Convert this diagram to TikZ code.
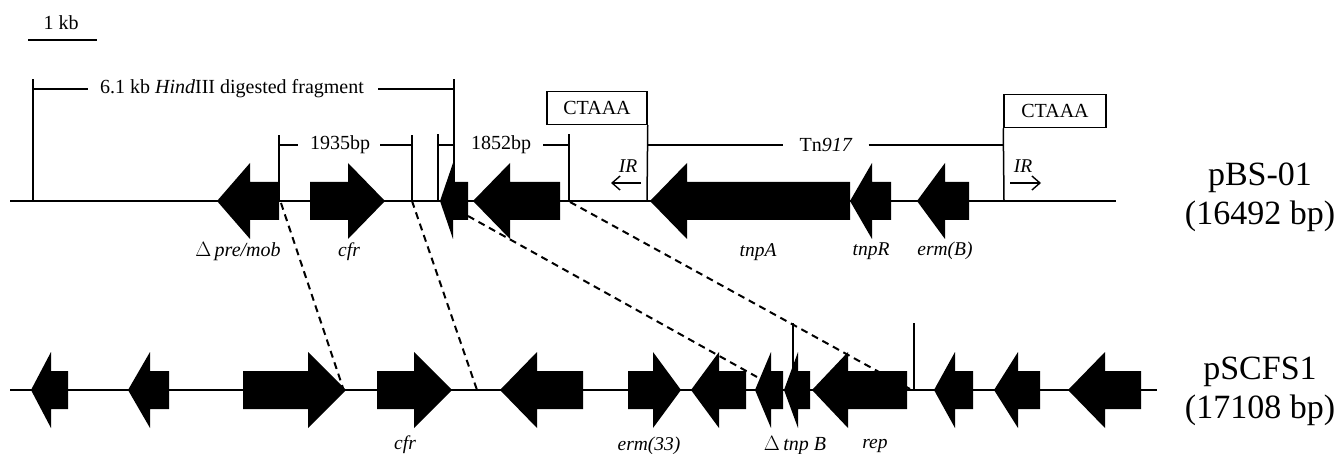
\documentclass[tikz,border=0pt]{standalone}
\usepackage{fontspec}
\setmainfont{Liberation Serif}
\usetikzlibrary{arrows.meta}
\newcommand{\garrow}[4]{\fill (#1,#4) -- (#2,#4-38) -- (#2,#4-19) -- (#3,#4-19) -- (#3,#4+19) -- (#2,#4+19) -- (#2,#4+38) -- cycle;}
\tikzset{
  dnaline/.style={line width=1.9pt},
  brk/.style={line width=1.5pt},
  dline/.style={line width=2pt, dash pattern=on 7pt off 5pt},
  lbl/.style={inner sep=0pt, font=\fontsize{20}{24}\selectfont},
  glbl/.style={inner sep=0pt, font=\fontsize{19.5}{23}\selectfont\itshape},
  big/.style={inner sep=0pt, font=\fontsize{34}{40}\selectfont, align=center},
  boxlbl/.style={draw, line width=1.5pt, inner sep=0pt, font=\fontsize{20}{24}\selectfont},
  irarrow/.style={line width=1.4pt, -{Straight Barb[length=8pt,width=14pt]}}
}
\begin{document}
\begin{tikzpicture}[x=1pt,y=-1pt]
\useasboundingbox (0,0) rectangle (1341,454);
% scale bar
\node[lbl] (kb) at (61,23) {1 kb};
\coordinate (sb1) at (28,40); \coordinate (sb2) at (97,40);
\draw[brk] (sb1) -- (sb2);
% main lines
\coordinate (t0) at (10,201); \coordinate (t1) at (1116,201);
\coordinate (b0) at (10,390); \coordinate (b1) at (1157,390);
\draw[dnaline] (t0) -- (t1);
\draw[dnaline] (b0) -- (b1);
% HindIII bracket
\node[lbl] (hind) at (232,89) {6.1 kb \textit{Hind}III digested fragment};
\draw[brk] (33,201) -- (33,79);
\draw[brk] (454,201) -- (454,79);
\draw[brk] (33,89) -- ([xshift=-12pt]hind.west);
\draw[brk] ([xshift=14pt]hind.east) -- (454,89);
% 1935bp bracket
\node[lbl] (b1935) at (340,145) {1935bp};
\draw[brk] (279,201) -- (279,135);
\draw[brk] (412,201) -- (412,135);
\draw[brk] (279,145) -- ([xshift=-12pt]b1935.west);
\draw[brk] ([xshift=10pt]b1935.east) -- (412,145);
% 1852bp bracket
\node[lbl] (b1852) at (501,145) {1852bp};
\draw[brk] (438,201) -- (438,134);
\draw[brk] (569,201) -- (569,134);
\draw[brk] (438,145) -- (455,145);
\draw[brk] ([xshift=12pt]b1852.east) -- (569,145);
% CTAAA boxes and Tn917
\node[boxlbl, minimum width=100pt, minimum height=33pt] (ct1) at (597,108) {CTAAA};
\node[boxlbl, minimum width=102pt, minimum height=33pt] (ct2) at (1055,111) {CTAAA};
\draw[brk] (ct1.south east) -- (647,201);
\draw[brk] (ct2.south west) -- (1004,201);
\node[lbl] (tn) at (826,145) {Tn\textit{917}};
\draw[brk] (647,145) -- ([xshift=-16pt]tn.west);
\draw[brk] ([xshift=16pt]tn.east) -- (1004,145);
% IR arrows
\node[glbl] (ir1) at (628,166) {IR};
\node[glbl] (ir2) at (1023,166) {IR};
\coordinate (ir1a) at (641,183); \coordinate (ir1b) at (611,183);
\coordinate (ir2a) at (1010,183); \coordinate (ir2b) at (1041,183);
\draw[irarrow] (ir1a) -- (ir1b);
\draw[irarrow] (ir2a) -- (ir2b);
% top genes
\garrow{217}{250}{279}{201}
\garrow{385}{348}{310}{201}
\garrow{440}{453}{468}{201}
\garrow{473}{510}{560}{201}
\garrow{650}{687}{850}{201}
\garrow{850}{872}{891}{201}
\garrow{917}{945}{969}{201}
% top gene labels
\node[lbl] (pre) at (238,252) {$\Delta$\,\textit{pre/mob}};
\node[glbl] (cfr1) at (349,252) {cfr};
\node[glbl] (tnpA) at (758,252) {tnpA};
\node[glbl] (tnpR) at (871,251) {tnpR};
\node[glbl] (ermB) at (945,251) {erm(B)};
% bottom genes
\garrow{31}{51}{68}{390}
\garrow{128}{150}{169}{390}
\garrow{346}{308}{243}{390}
\garrow{452}{414}{377}{390}
\garrow{500}{537}{583}{390}
\garrow{681}{653}{628}{390}
\garrow{691}{719}{746}{390}
\garrow{755}{771}{783}{390}
\garrow{784}{798}{810}{390}
\garrow{812}{848}{907}{390}
\garrow{934}{955}{973}{390}
\garrow{994}{1018}{1040}{390}
\garrow{1068}{1105}{1141}{390}
% bottom vertical markers
\draw[brk] (793,390) -- (793,323);
\draw[brk] (914,390) -- (914,323);
% bottom labels
\node[glbl] (cfr2) at (405,445) {cfr};
\node[glbl] (erm33) at (649,446) {erm(33)};
\node[lbl] (tnpB) at (795,446) {$\Delta$\,\textit{tnp B}};
\node[glbl] (rep) at (875,446) {rep};
% dashed homology lines
\coordinate (d1a) at (281,203); \coordinate (d1b) at (343,388);
\coordinate (d2a) at (412,201); \coordinate (d2b) at (477,390);
\coordinate (d3a) at (468,216); \coordinate (d3b) at (757,377);
\coordinate (d4a) at (570,202); \coordinate (d4b) at (910,389);
\draw[dline] (d1a) -- (d1b);
\draw[dline] (d2a) -- (d2b);
\draw[dline] (d3a) -- (d3b);
\draw[dline] (d4a) -- (d4b);
% plasmid names
\node[big] (p1) at (1260,197) {pBS-01\\[-1pt](16492 bp)};
\node[big] (p2) at (1260,391) {pSCFS1\\[-1pt](17108 bp)};
\end{tikzpicture}
\end{document}
